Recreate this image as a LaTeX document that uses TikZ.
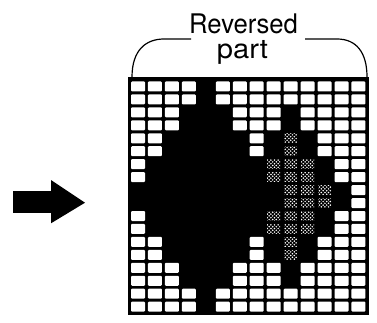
\documentclass[tikz,border=0pt]{standalone}
\usepackage{fontspec}
\newfontfamily\hv{TeX Gyre Heros}
\usetikzlibrary{patterns}
\pgfdeclarepatternformonly{halfdots}{\pgfqpoint{-1pt}{-1pt}}{\pgfqpoint{4.5pt}{4.5pt}}{\pgfqpoint{3.6pt}{3.6pt}}{%
  \pgfpathcircle{\pgfqpoint{0.9pt}{0.9pt}}{0.85pt}%
  \pgfpathcircle{\pgfqpoint{2.7pt}{2.7pt}}{0.85pt}%
  \pgfusepath{fill}}
\begin{document}
\begin{tikzpicture}[x=1pt,y=-1pt,
  cellw/.style={fill=white,rounded corners=1pt},
  cellg/.style={pattern=halfdots,pattern color=white},
  brk/.style={line width=1.2pt},
  lbl/.style={inner sep=0pt,anchor=base,font=\hv\fontsize{27}{27}\selectfont}]
\useasboundingbox (0,0) rectangle (377,323);
% grid frame
\fill[black] (128,77) rectangle (368.5,314.5);
\foreach \r in {0,...,17}{
  \foreach \c in {0,...,13}{
    \pgfmathtruncatemacro\isL{abs(\c-4)<=(4-abs(floor(\r/2)-4))}
    \pgfmathtruncatemacro\isR{abs(\c-9)<=(3-abs(floor(\r/2)-4))}
    \ifnum\isL=0 \ifnum\isR=0
      \fill[cellw] ({131+16.96*\c},{81.5+12.95*\r}) rectangle ++(14,10);
    \fi\fi
  }
}
\foreach \c/\r in {9/4,9/5,8/6,9/6,10/6,8/7,9/7,10/7,9/8,10/8,11/8,9/9,10/9,11/9,8/10,9/10,10/10,8/11,9/11,10/11,9/12,9/13}{
  \fill[cellg] ({131.5+16.96*\c},{82+12.95*\r}) rectangle ++(13,9);
}
% bracket
\coordinate (bl) at (132,77);
\coordinate (br) at (367,77);
\draw[brk] (bl) .. controls (132,50) and (146,39) .. (164,39) -- (191,39);
\draw[brk] (305,39) -- (337,39) .. controls (356,39) and (367,52) .. (br);
% labels
\node[lbl] (rev) at (243.5,33.3) {\scalebox{0.95}[1]{Reversed}};
\node[lbl] (part) at (242.5,58.3) {\scalebox{1.08}[1]{part}};
% arrow
\fill (12.7,190.7) rectangle (51.7,213.3);
\fill (51,180) -- (85,202.7) -- (51,223.3) -- cycle;
\end{tikzpicture}
\end{document}
